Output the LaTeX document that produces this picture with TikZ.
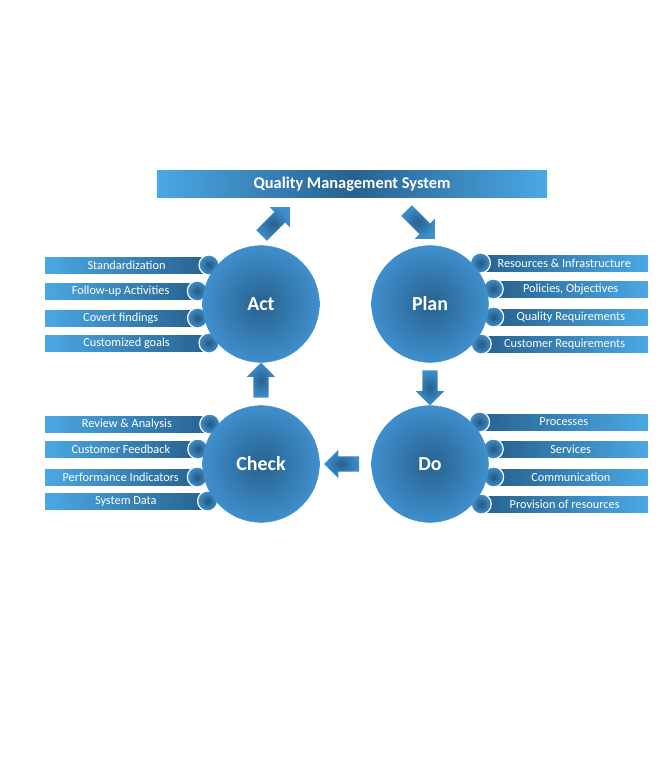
\documentclass[tikz,border=0pt]{standalone}
\usepackage{fontspec}
\setmainfont{Carlito}
\usepackage{tikz}
\usetikzlibrary{shapes.arrows,calc}
\definecolor{qlight}{HTML}{4BA8E4}
\definecolor{qmid}{HTML}{3F8FCC}
\definecolor{qdark}{HTML}{27628F}
\tikzset{phase/.style={circle, minimum size=3.5cm, draw=qmid, thin, inner color=qdark, outer color=qmid, text=white, font=\fontsize{17}{20}\selectfont\bfseries}}
\tikzset{knob/.style={circle, minimum size=0.6cm, draw=white, line width=1pt, inner color=qdark!90!black, outer color=qmid}}
\tikzset{itembar/.style={rectangle, minimum height=0.54cm, inner sep=0pt, draw=white, thin, text=white, font=\fontsize{10.5}{12}\selectfont}}
\tikzset{leftbar/.style={itembar, left color=qlight, right color=qdark}}
\tikzset{rightbar/.style={itembar, left color=qdark, right color=qlight}}
\tikzset{titlebar/.style={rectangle, minimum width=11.7cm, minimum height=0.78cm, left color=qlight, right color=qlight, middle color=qdark, text=white, font=\fontsize{14}{16}\selectfont\bfseries}}
\tikzset{blockarrow/.style={single arrow, single arrow head extend=0.2cm, single arrow head indent=0cm, minimum height=1.05cm, inner xsep=0pt, inner ysep=0.22cm, inner color=qdark, outer color=qmid}}

\begin{document}
\begin{tikzpicture}[x=0.03cm, y=-0.03cm]
  \useasboundingbox (0,0) rectangle (667,764);

  \node (qms) at (352,184)[titlebar]{Quality Management System};

  % Act items
  \foreach \t/\y [count=\i] in {Standardization/265, Follow-up Activities/291, Covert findings/318, Customized goals/343}{
    \pgfmathsetmacro{\bx}{261-sqrt(65^2-(\y-304)^2)}
    \node (actbar\i) at ({(44+\bx)/2},\y)[leftbar, minimum width={(\bx-44)*0.03cm}]{\t};
    \node (actknob\i) at (\bx,\y)[knob]{};
  }
  % Check items
  \foreach \t/\y [count=\i] in {Review \& Analysis/424, Customer Feedback/449, Performance Indicators/477, System Data/501}{
    \pgfmathsetmacro{\bx}{261-sqrt(65^2-(\y-464)^2)}
    \node (checkbar\i) at ({(44+\bx)/2},\y)[leftbar, minimum width={(\bx-44)*0.03cm}]{\t};
    \node (checkknob\i) at (\bx,\y)[knob]{};
  }
  % Plan items
  \foreach \t/\y [count=\i] in {Resources \& Infrastructure/263, {Policies, Objectives}/289, Quality Requirements/317, Customer Requirements/344}{
    \pgfmathsetmacro{\bx}{430+sqrt(65^2-(\y-304)^2)}
    \node (planbar\i) at ({(\bx+648)/2},\y)[rightbar, minimum width={(648-\bx)*0.03cm}]{\t};
    \node (planknob\i) at (\bx,\y)[knob]{};
  }
  % Do items
  \foreach \t/\y [count=\i] in {Processes/422, Services/449, Communication/477, Provision of resources/504}{
    \pgfmathsetmacro{\bx}{430+sqrt(65^2-(\y-464)^2)}
    \node (dobar\i) at ({(\bx+648)/2},\y)[rightbar, minimum width={(648-\bx)*0.03cm}]{\t};
    \node (doknob\i) at (\bx,\y)[knob]{};
  }

  \node (act) at (261,304)[phase]{Act};
  \node (plan) at (430,304)[phase]{Plan};
  \node (check) at (261,464)[phase]{Check};
  \node (do) at (430,464)[phase]{Do};

  % cycle arrows
  \node (actqms) at (273,224)[blockarrow, rotate=45, minimum height=1.2cm]{};
  \node (qmsplan) at (418,222)[blockarrow, rotate=-45, minimum height=1.2cm]{};
  \node (plando) at ($(plan.south)!0.5!(do.north)$)[blockarrow, rotate=-90]{};
  \node (docheck) at ($(do.west)!0.5!(check.east)$)[blockarrow, rotate=180]{};
  \node (checkact) at ($(check.north)!0.5!(act.south)$)[blockarrow, rotate=90]{};
\end{tikzpicture}
\end{document}
